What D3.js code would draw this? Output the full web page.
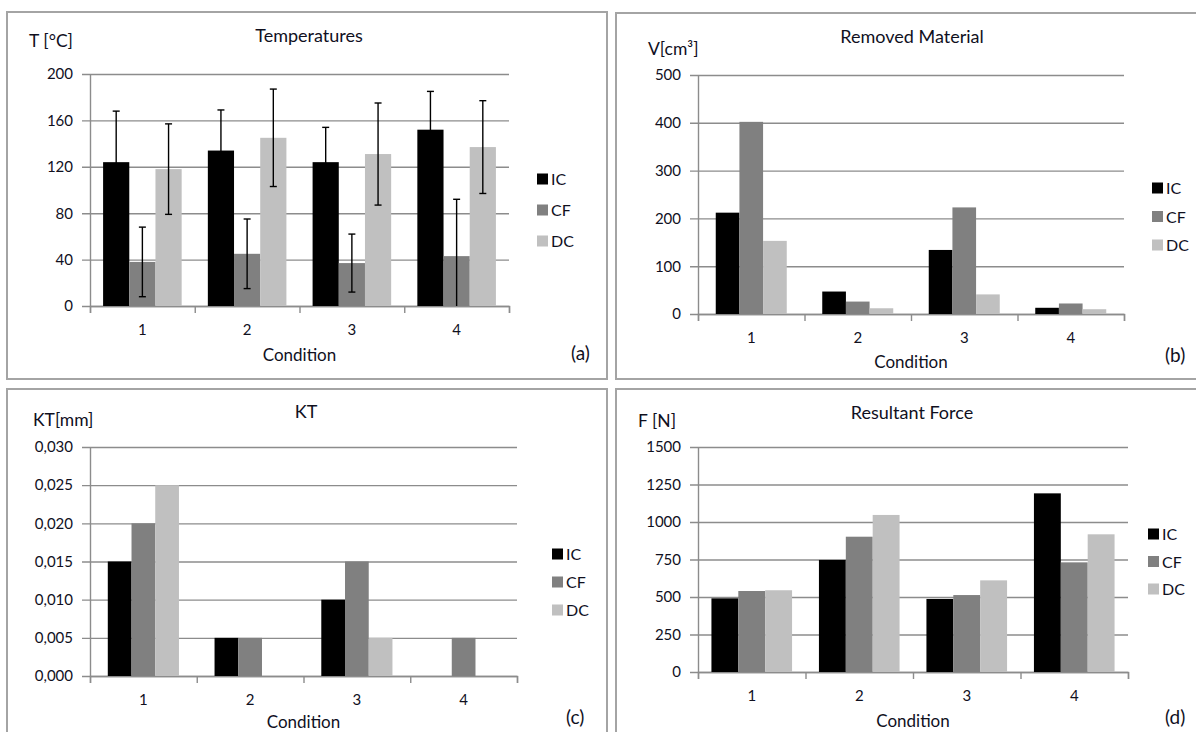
<!DOCTYPE html>
<html>
<head>
<meta charset="utf-8">
<script src="https://cdn.jsdelivr.net/npm/d3@7"></script>
<style>
  body { margin:0; background:#fff; }
  svg text { font-family: Lato, "Open Sans", sans-serif; fill:#10101e; }
</style>
</head>
<body>
<svg id="fig"></svg>
<script>
// categories and series
var conditions = ["1","2","3","4"];
var seriesNames = ["IC","CF","DC"];

// (a) temperatures, mean and error
var tempIC = [124, 134, 124, 152];
var tempCF = [38, 45, 37, 43];
var tempDC = [118, 145, 131, 137];
var tempErrIC = [44, 35, 30, 33];
var tempErrCF = [30, 30, 25, 49];
var tempErrDC = [39, 42, 44, 40];
var tempTicks = [0, 40, 80, 120, 160, 200];

// (b) removed material
var volIC = [212, 47, 134, 13];
var volCF = [402, 26, 223, 22];
var volDC = [153, 12, 41, 10];
var volTicks = [0, 100, 200, 300, 400, 500];

// (c) KT
var ktIC = [0.015, 0.005, 0.010, 0];
var ktCF = [0.020, 0.005, 0.015, 0.005];
var ktDC = [0.025, 0, 0.005, 0];
var ktTicks = [0, 0.005, 0.010, 0.015, 0.020, 0.025, 0.030];

// (d) resultant force
var forceIC = [491, 747, 487, 1191];
var forceCF = [540, 902, 513, 731];
var forceDC = [545, 1047, 611, 918];
var forceTicks = [0, 250, 500, 750, 1000, 1250, 1500];

var colors = {IC:"#000000", CF:"#808080", DC:"#c0c0c0"};
var gridColor = "#8c8c8c";

var svg = d3.select("#fig")
    .attr("width",1196)
    .attr("height",732);

var commaFormat = function(d){
    return d3.format(".3f")(d).replace(".",",");
}

var drawPanel = function(p)
{
    var g = svg.append("g");

    //frame
    g.append("rect")
        .attr("x",p.frame[0]).attr("y",p.frame[1])
        .attr("width",p.frame[2]).attr("height",p.frame[3])
        .attr("fill","none")
        .attr("stroke","#a4a4a4")
        .attr("stroke-width",2);

    var width = p.right - p.left;

    var x0 = d3.scaleBand()
        .domain(conditions)
        .range([p.left,p.right]);

    var x1 = d3.scaleBand()
        .domain(seriesNames)
        .range([0,x0.bandwidth()])
        .paddingInner(0)
        .paddingOuter(p.gap/2);

    var y = d3.scaleLinear()
        .domain([p.ticks[0],p.ticks[p.ticks.length-1]])
        .range([p.bottom,p.top]);

    //gridlines
    g.append("g")
        .attr("transform","translate("+p.right+",0)")
        .call(d3.axisLeft(y).tickValues(p.ticks).tickSize(width+8).tickFormat(""))
        .call(function(s){
            s.select(".domain").remove();
            s.selectAll("line").attr("stroke",gridColor).attr("stroke-width",1.4);
        });

    //y axis
    g.append("g")
        .attr("transform","translate("+p.left+",0)")
        .call(d3.axisLeft(y).tickValues(p.ticks).tickSize(0).tickPadding(17)
              .tickFormat(p.format || d3.format("d")))
        .call(function(s){
            s.select(".domain").attr("stroke",gridColor).attr("stroke-width",1.4);
            s.selectAll("text").style("font-size","15px").attr("font-family",null);
        });

    //x axis boundary ticks
    var xb = d3.scaleLinear().domain([0,conditions.length]).range([p.left,p.right]);
    g.append("g")
        .attr("transform","translate(0,"+p.bottom+")")
        .call(d3.axisBottom(xb).ticks(conditions.length).tickSizeInner(7).tickSizeOuter(7).tickFormat(""))
        .call(function(s){
            s.selectAll("line,path").attr("stroke",gridColor).attr("stroke-width",1.4);
        });

    //x axis labels
    g.append("g")
        .attr("transform","translate(0,"+p.bottom+")")
        .call(d3.axisBottom(x0).tickSize(0).tickPadding(18))
        .call(function(s){
            s.select(".domain").remove();
            s.selectAll("text").style("font-size","15px").attr("font-family",null);
        });

    //bars
    var rows = [];
    p.values.forEach(function(vals,si){
        vals.forEach(function(v,ci){
            rows.push({cond:conditions[ci], name:seriesNames[si], value:v,
                       err: p.errors ? p.errors[si][ci] : null});
        });
    });

    g.append("g")
        .selectAll("rect")
        .data(rows)
        .enter()
        .append("rect")
        .attr("x",function(d){ return x0(d.cond)+x1(d.name); })
        .attr("y",function(d){ return y(d.value); })
        .attr("width",x1.bandwidth())
        .attr("height",function(d){ return p.bottom - y(d.value); })
        .attr("fill",function(d){ return colors[d.name]; });

    //error bars
    if(p.errors)
    {
        var eb = g.append("g")
            .selectAll("g")
            .data(rows)
            .enter()
            .append("g")
            .attr("stroke","#000")
            .attr("stroke-width",1.4);
        var cx = function(d){ return x0(d.cond)+x1(d.name)+x1.bandwidth()/2; };
        var hi = function(d){ return y(d.value+d.err); };
        var lo = function(d){ return y(Math.max(0,d.value-d.err)); };
        eb.append("line")
            .attr("x1",cx).attr("x2",cx)
            .attr("y1",hi).attr("y2",lo);
        eb.append("line")
            .attr("x1",function(d){ return cx(d)-3.5; })
            .attr("x2",function(d){ return cx(d)+3.5; })
            .attr("y1",hi).attr("y2",hi);
        eb.append("line")
            .filter(function(d){ return d.value-d.err > 0; })
            .attr("x1",function(d){ return cx(d)-3.5; })
            .attr("x2",function(d){ return cx(d)+3.5; })
            .attr("y1",lo).attr("y2",lo);
    }

    //title
    g.append("text")
        .attr("x",p.title[1]).attr("y",p.title[2])
        .attr("text-anchor","middle")
        .style("font-size","18px")
        .text(p.title[0]);

    //y label
    g.append("text")
        .attr("x",p.ylabel[1]).attr("y",p.ylabel[2])
        .style("font-size","17.5px")
        .text(p.ylabel[0]);

    //x label
    g.append("text")
        .attr("x",(p.left+p.right)/2).attr("y",p.bottom+p.xlab)
        .attr("text-anchor","middle")
        .style("font-size","17px")
        .text("Condition");

    //legend
    var leg = g.append("g")
        .selectAll("g")
        .data(seriesNames)
        .enter()
        .append("g")
        .attr("transform",function(d,i){
            return "translate("+p.legend[0]+","+(p.legend[1]+i*p.legend[2])+")";
        });
    leg.append("rect")
        .attr("x",0).attr("y",-5.5)
        .attr("width",11).attr("height",11)
        .attr("fill",function(d){ return colors[d]; });
    leg.append("text")
        .attr("x",14).attr("y",6)
        .style("font-size","16px")
        .text(function(d){ return d; });

    //panel letter
    g.append("text")
        .attr("x",p.letter[1]).attr("y",p.letter[2])
        .style("font-size","19px")
        .text(p.letter[0]);
}

drawPanel({
    frame:[7,12,600,367],
    left:90, right:509, top:74, bottom:306, gap:1.0, xlab:55,
    ticks:tempTicks,
    values:[tempIC,tempCF,tempDC],
    errors:[tempErrIC,tempErrCF,tempErrDC],
    title:["Temperatures",309,42],
    ylabel:["T [°C]",29,47],
    legend:[537,179,31],
    letter:["(a)",571,360]
});

drawPanel({
    frame:[616,13,590,366],
    left:698, right:1124, top:75, bottom:314, gap:1.5, xlab:54,
    ticks:volTicks,
    values:[volIC,volCF,volDC],
    title:["Removed Material",912,43],
    ylabel:["V[cm³]",648,55],
    legend:[1152,188,28.5],
    letter:["(b)",1165,362]
});

drawPanel({
    frame:[7,389,600,360],
    left:90, right:517, top:447, bottom:676, gap:1.5, xlab:52,
    ticks:ktTicks,
    format:commaFormat,
    values:[ktIC,ktCF,ktDC],
    title:["KT",306,418],
    ylabel:["KT[mm]",33,426],
    legend:[552,554,28],
    letter:["(c)",566,724]
});

drawPanel({
    frame:[616,389,590,360],
    left:698, right:1128, top:447, bottom:672, gap:1.0, xlab:55,
    ticks:forceTicks,
    values:[forceIC,forceCF,forceDC],
    title:["Resultant Force",912,419],
    ylabel:["F [N]",638,427],
    legend:[1148,534,27.5],
    letter:["(d)",1165,724]
});
</script>
</body>
</html>
